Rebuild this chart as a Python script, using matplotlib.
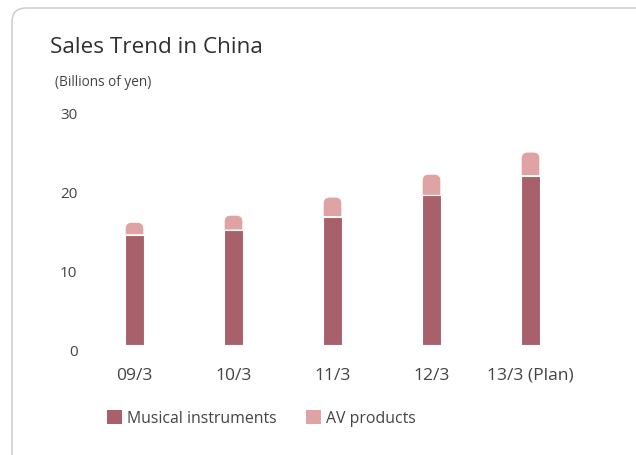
import matplotlib
matplotlib.use("Agg")
import matplotlib.pyplot as plt
from matplotlib.path import Path
from matplotlib.patches import PathPatch, Patch
from matplotlib.transforms import IdentityTransform, ScaledTranslation

# ---- data ----
categories = ["09/3", "10/3", "11/3", "12/3", "13/3 (Plan)"]
musical_instruments = [14.0, 14.6, 16.3, 19.0, 21.5]
av_products = [1.6, 1.9, 2.5, 2.7, 3.0]
yticks = [0, 10, 20, 30]
series_names = ["Musical instruments", "AV products"]

MI_COLOR = "#A8616A"
AV_COLOR = "#DFA3A3"
TEXT = "#444444"

plt.rcParams["font.family"] = ["Open Sans", "DejaVu Sans"]

W, H = 636, 456
fig = plt.figure(figsize=(W / 100, H / 100), dpi=100)
fig.patch.set_facecolor("white")

# border (rounded top-left corner, extends past right/bottom edges)
r = 14
verts = [(12, -10), (12, H - 9 - r), (12, H - 9), (12 + r, H - 9), (W + 10, H - 9)]
codes = [Path.MOVETO, Path.LINETO, Path.CURVE3, Path.CURVE3, Path.LINETO]
fig.add_artist(PathPatch(Path(verts, codes), facecolor="none", edgecolor="#cdcdcd",
                         lw=1.1, transform=IdentityTransform()))

ax_left, ax_right = 85, 580
ax_bottom, ax_top = 346.3, 109.6
ax = fig.add_axes([ax_left / W, (H - ax_bottom) / H, (ax_right - ax_left) / W,
                   (ax_bottom - ax_top) / H])
ax.set_xlim(-0.5, len(categories) - 0.5)
ax.set_ylim(0, 30)
for s in ax.spines.values():
    s.set_visible(False)

x = list(range(len(categories)))
bw = 0.19
ax.bar(x, musical_instruments, width=bw, color=MI_COLOR, edgecolor="white", lw=0.8)
av_bars = ax.bar(x, av_products, width=bw, bottom=musical_instruments,
                 color=AV_COLOR, edgecolor="white", lw=0.8)

# round the top corners of the AV segments
px_per_x = (ax_right - ax_left) / len(categories)
px_per_y = (ax_bottom - ax_top) / 30
rad = 6.5
rx, ry = rad / px_per_x, rad / px_per_y
for rect in av_bars:
    x0 = rect.get_x(); x1 = x0 + rect.get_width()
    y0 = rect.get_y(); y1 = y0 + rect.get_height()
    rect.set_visible(False)
    v = [(x0, y0), (x0, y1 - ry), (x0, y1), (x0 + rx, y1), (x1 - rx, y1),
         (x1, y1), (x1, y1 - ry), (x1, y0), (x0, y0)]
    c = [Path.MOVETO, Path.LINETO, Path.CURVE3, Path.CURVE3, Path.LINETO,
         Path.CURVE3, Path.CURVE3, Path.LINETO, Path.CLOSEPOLY]
    ax.add_patch(PathPatch(Path(v, c), facecolor=AV_COLOR, edgecolor="white", lw=0.8))

ax.set_xticks(x)
ax.set_xticklabels(categories, fontsize=12.6, color=TEXT)
ax.set_yticks(yticks)
ax.set_yticklabels([str(t) for t in yticks], fontsize=11, color=TEXT)
ax.tick_params(axis="both", length=0)
ax.tick_params(axis="x", pad=15.5)
ax.tick_params(axis="y", pad=5.4)
for lab in ax.get_yticklabels():
    lab.set_transform(lab.get_transform() + ScaledTranslation(0, -0.04, fig.dpi_scale_trans))

# titles
fig.text(50 / W, (H - 53) / H, "Sales Trend in China", fontsize=16.2, color="#2f2f2f",
         va="baseline", ha="left")
fig.text(55 / W, (H - 86) / H, "(Billions of yen)", fontsize=9.8, color=TEXT,
         va="baseline", ha="left")

# legend
fs = 11.4
fpx = fs / 0.72
handles = [Patch(facecolor=MI_COLOR), Patch(facecolor=AV_COLOR)]
leg = fig.legend(handles, series_names, loc="center left",
                 bbox_to_anchor=(107 / W, (H - 419) / H), ncol=2, frameon=False,
                 fontsize=fs, handlelength=15 / fpx, handleheight=15 / fpx,
                 handletextpad=5 / fpx, columnspacing=29 / fpx, borderpad=0,
                 borderaxespad=0)
for t in leg.get_texts():
    t.set_color(TEXT)

fig.savefig("out.png", dpi=100)
